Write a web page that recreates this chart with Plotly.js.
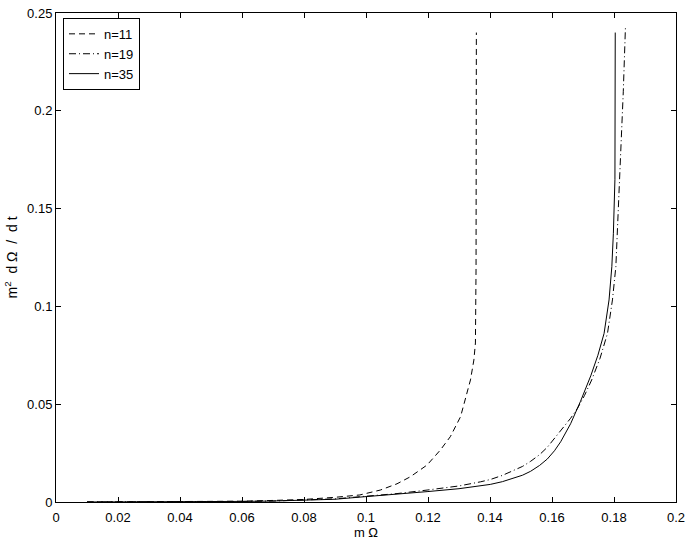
<!DOCTYPE html>
<html>
<head>
<meta charset="utf-8">
<script src="https://cdn.plot.ly/plotly-3.0.1.min.js"></script>
<style>html,body{margin:0;padding:0;background:#fff;}#chart{width:691px;height:541px;}</style>
</head>
<body>
<div id="chart"></div>
<script>
// n=11 (dashed)
const x11 = [0.01, 0.02, 0.04, 0.06, 0.07, 0.08, 0.09, 0.098, 0.1046, 0.11, 0.1143, 0.1197, 0.124, 0.1272, 0.1305, 0.1326, 0.1337, 0.1348, 0.1353, 0.1355, 0.1356];
const y11 = [0.00001, 0.00003, 0.0001, 0.0004, 0.0008, 0.0013, 0.0024, 0.0036, 0.0061, 0.0093, 0.0129, 0.0189, 0.0266, 0.0334, 0.0436, 0.0556, 0.0624, 0.0726, 0.0813, 0.12, 0.24];
// n=19 (dash-dot)
const x19 = [0.01, 0.02, 0.04, 0.06, 0.07, 0.08, 0.09, 0.098, 0.11, 0.1197, 0.13, 0.1369, 0.1401, 0.144, 0.1477, 0.1505, 0.1531, 0.156, 0.1585, 0.1628, 0.166, 0.1682, 0.1705, 0.1728, 0.1755, 0.1779, 0.1795, 0.1806, 0.1811, 0.1816, 0.1822, 0.1830, 0.1837];
const y19 = [0.00001, 0.00002, 0.0001, 0.0003, 0.0005, 0.0009, 0.0016, 0.0027, 0.0043, 0.0061, 0.0082, 0.0103, 0.0115, 0.0136, 0.0160, 0.0182, 0.0208, 0.0242, 0.0280, 0.0362, 0.0428, 0.0478, 0.0545, 0.0624, 0.0735, 0.0862, 0.1033, 0.1203, 0.1374, 0.1544, 0.18, 0.21, 0.243];
// n=35 (solid)
const x35 = [0.01, 0.02, 0.04, 0.06, 0.07, 0.08, 0.09, 0.098, 0.11, 0.1197, 0.13, 0.1369, 0.1401, 0.144, 0.1477, 0.1505, 0.1531, 0.156, 0.1585, 0.1608, 0.1628, 0.166, 0.1692, 0.1725, 0.1748, 0.1768, 0.1784, 0.1793, 0.1798, 0.1801, 0.1803, 0.1804];
const y35 = [0.00001, 0.00002, 0.0001, 0.0003, 0.0005, 0.0008, 0.0014, 0.0025, 0.0039, 0.0053, 0.0068, 0.0082, 0.0090, 0.0104, 0.0121, 0.0137, 0.0157, 0.0187, 0.0220, 0.0262, 0.0308, 0.0400, 0.0515, 0.0645, 0.0750, 0.0862, 0.1033, 0.1203, 0.1374, 0.155, 0.165, 0.24];

const names = ["n=11", "n=19", "n=35"];
const xTicks = [0, 0.02, 0.04, 0.06, 0.08, 0.1, 0.12, 0.14, 0.16, 0.18, 0.2];
const xTickText = ["0", "0.02", "0.04", "0.06", "0.08", "0.1", "0.12", "0.14", "0.16", "0.18", "0.2"];
const yTicks = [0, 0.05, 0.1, 0.15, 0.2, 0.25];
const yTickText = ["0", "0.05", "0.1", "0.15", "0.2", "0.25"];

const traces = [
  {x: x11, y: y11, name: names[0], mode: "lines", line: {color: "black", width: 1, dash: "6px,4px"}},
  {x: x19, y: y19, name: names[1], mode: "lines", line: {color: "black", width: 1, dash: "7px,3px,1px,3px"}},
  {x: x35, y: y35, name: names[2], mode: "lines", line: {color: "black", width: 1}}
];

const font = {family: "Liberation Sans, Arial, Helvetica, sans-serif", size: 13, color: "black"};
const titleFont = {family: "Liberation Sans, Arial, Helvetica, sans-serif", size: 14, color: "black"};

const layout = {
  width: 691, height: 541,
  margin: {l: 56, r: 15, t: 13, b: 39},
  paper_bgcolor: "white", plot_bgcolor: "white",
  font: font,
  showlegend: true,
  legend: {x: 0.0113, y: 0.99, xanchor: "left", yanchor: "top", bordercolor: "black", borderwidth: 1, bgcolor: "white", font: font, tracegroupgap: 0},
  xaxis: {
    range: [0, 0.2], tickvals: xTicks, ticktext: xTickText,
    ticks: "inside", ticklen: 5, tickcolor: "black", showline: true, linecolor: "black", linewidth: 1,
    mirror: "ticks", showgrid: false, zeroline: false, ticklabelstandoff: 3,
    title: {text: "m Ω", font: font, standoff: 2}
  },
  yaxis: {
    range: [0, 0.25], tickvals: yTicks, ticktext: yTickText,
    ticks: "inside", ticklen: 5, tickcolor: "black", showline: true, linecolor: "black", linewidth: 1,
    mirror: "ticks", showgrid: false, zeroline: false,
    title: {text: "m<sup>2</sup>  d Ω  /  d t", font: titleFont, standoff: 6}
  }
};

Plotly.newPlot("chart", traces, layout, {displayModeBar: false, staticPlot: true});
</script>
</body>
</html>
